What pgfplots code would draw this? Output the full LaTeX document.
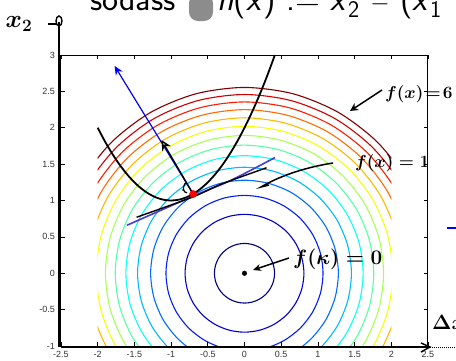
\documentclass[border=0pt]{standalone}
\usepackage{pgfplots}
\pgfplotsset{compat=1.18}
\usepackage{fontspec}
\newfontfamily\tickfont{Liberation Sans}
\usetikzlibrary{arrows.meta}
\definecolor{c0}{RGB}{0,0,128}
\definecolor{c1}{RGB}{0,0,206}
\definecolor{c2}{RGB}{0,29,255}
\definecolor{c3}{RGB}{0,108,255}
\definecolor{c4}{RGB}{0,186,255}
\definecolor{c5}{RGB}{10,255,245}
\definecolor{c6}{RGB}{88,255,167}
\definecolor{c7}{RGB}{167,255,88}
\definecolor{c8}{RGB}{245,255,10}
\definecolor{c9}{RGB}{255,186,0}
\definecolor{c10}{RGB}{255,108,0}
\definecolor{c11}{RGB}{255,29,0}
\definecolor{c12}{RGB}{206,0,0}
\definecolor{c13}{RGB}{128,0,0}
\definecolor{tanblue}{RGB}{70,60,210}
\begin{document}
\begin{tikzpicture}[x=1pt,y=1pt]
\useasboundingbox (-61,-14) rectangle (395,346);
% contour lines (grid x in [-2,2], y in [-1,3])
\begin{axis}[at={(36.7pt,0pt)}, anchor=south west, scale only axis,
  width=293.6pt, height=291pt, xmin=-2, xmax=2, ymin=-1, ymax=3,
  hide axis, clip=true]
\addplot[c0, line width=1.1pt, smooth cycle] coordinates {(0.41,0) (0.396,0.106) (0.355,0.205) (0.29,0.29) (0.205,0.355) (0.106,0.396) (0,0.41) (-0.106,0.396) (-0.205,0.355) (-0.29,0.29) (-0.355,0.205) (-0.396,0.106) (-0.41,0) (-0.396,-0.106) (-0.355,-0.205) (-0.29,-0.29) (-0.205,-0.355) (-0.106,-0.396) (0,-0.41) (0.106,-0.396) (0.205,-0.355) (0.29,-0.29) (0.355,-0.205) (0.396,-0.106)};
\addplot[c1, line width=1.1pt, smooth cycle] coordinates {(0.81,0) (0.782,0.21) (0.701,0.405) (0.573,0.573) (0.405,0.701) (0.21,0.782) (0,0.81) (-0.21,0.782) (-0.405,0.701) (-0.573,0.573) (-0.701,0.405) (-0.782,0.21) (-0.81,0) (-0.782,-0.21) (-0.701,-0.405) (-0.573,-0.573) (-0.405,-0.701) (-0.21,-0.782) (0,-0.81) (0.21,-0.782) (0.405,-0.701) (0.573,-0.573) (0.701,-0.405) (0.782,-0.21)};
\addplot[c2, line width=1.1pt, smooth cycle] coordinates {(1.07,0) (1.034,0.277) (0.927,0.535) (0.757,0.757) (0.535,0.927) (0.277,1.034) (0,1.07) (-0.277,1.034) (-0.535,0.927) (-0.757,0.757) (-0.927,0.535) (-1.034,0.277) (-1.07,0) (-1.034,-0.277) (-0.927,-0.535) (-0.757,-0.757) (-0.535,-0.927) (-0.277,-1.034) (0,-1.07) (0.277,-1.034) (0.535,-0.927) (0.757,-0.757) (0.927,-0.535) (1.034,-0.277)};
\addplot[c3, line width=1.1pt, smooth cycle] coordinates {(1.279,0) (1.235,0.331) (1.108,0.64) (0.904,0.904) (0.64,1.108) (0.331,1.235) (0,1.279) (-0.331,1.235) (-0.64,1.108) (-0.904,0.904) (-1.108,0.64) (-1.235,0.331) (-1.279,0) (-1.235,-0.331) (-1.108,-0.64) (-0.904,-0.904) (-0.64,-1.108) (-0.331,-1.235) (0,-1.279) (0.331,-1.235) (0.64,-1.108) (0.904,-0.904) (1.108,-0.64) (1.235,-0.331)};
\addplot[c4, line width=1.1pt, smooth cycle] coordinates {(1.457,0) (1.407,0.377) (1.262,0.729) (1.03,1.03) (0.729,1.262) (0.377,1.407) (0,1.457) (-0.377,1.407) (-0.729,1.262) (-1.03,1.03) (-1.262,0.729) (-1.407,0.377) (-1.457,0) (-1.407,-0.377) (-1.262,-0.729) (-1.03,-1.03) (-0.729,-1.262) (-0.377,-1.407) (0,-1.457) (0.377,-1.407) (0.729,-1.262) (1.03,-1.03) (1.262,-0.729) (1.407,-0.377)};
\addplot[c5, line width=1.1pt, smooth cycle] coordinates {(1.616,0) (1.561,0.418) (1.399,0.808) (1.143,1.143) (0.808,1.399) (0.418,1.561) (0,1.616) (-0.418,1.561) (-0.808,1.399) (-1.143,1.143) (-1.399,0.808) (-1.561,0.418) (-1.616,0) (-1.561,-0.418) (-1.399,-0.808) (-1.143,-1.143) (-0.808,-1.399) (-0.418,-1.561) (0,-1.616) (0.418,-1.561) (0.808,-1.399) (1.143,-1.143) (1.399,-0.808) (1.561,-0.418)};
\addplot[c6, line width=1.1pt, smooth cycle] coordinates {(1.761,0) (1.701,0.456) (1.525,0.881) (1.245,1.245) (0.881,1.525) (0.456,1.701) (0,1.761) (-0.456,1.701) (-0.881,1.525) (-1.245,1.245) (-1.525,0.881) (-1.701,0.456) (-1.761,0) (-1.701,-0.456) (-1.525,-0.881) (-1.245,-1.245) (-0.881,-1.525) (-0.456,-1.701) (0,-1.761) (0.456,-1.701) (0.881,-1.525) (1.245,-1.245) (1.525,-0.881) (1.701,-0.456)};
\addplot[c7, line width=1.1pt, smooth cycle] coordinates {(1.895,0) (1.83,0.49) (1.641,0.948) (1.34,1.34) (0.948,1.641) (0.49,1.83) (0,1.895) (-0.49,1.83) (-0.948,1.641) (-1.34,1.34) (-1.641,0.948) (-1.83,0.49) (-1.895,0) (-1.83,-0.49) (-1.641,-0.948) (-1.34,-1.34) (-0.948,-1.641) (-0.49,-1.83) (0,-1.895) (0.49,-1.83) (0.948,-1.641) (1.34,-1.34) (1.641,-0.948) (1.83,-0.49)};
\addplot[c8, line width=1.1pt, smooth cycle] coordinates {(2.02,0) (1.951,0.523) (1.749,1.01) (1.428,1.428) (1.01,1.749) (0.523,1.951) (0,2.02) (-0.523,1.951) (-1.01,1.749) (-1.428,1.428) (-1.749,1.01) (-1.951,0.523) (-2.02,0) (-1.951,-0.523) (-1.749,-1.01) (-1.428,-1.428) (-1.01,-1.749) (-0.523,-1.951) (0,-2.02) (0.523,-1.951) (1.01,-1.749) (1.428,-1.428) (1.749,-1.01) (1.951,-0.523)};
\addplot[c9, line width=1.1pt, smooth cycle] coordinates {(2.137,0) (2.064,0.553) (1.851,1.069) (1.511,1.511) (1.069,1.851) (0.553,2.064) (0,2.137) (-0.553,2.064) (-1.069,1.851) (-1.511,1.511) (-1.851,1.069) (-2.064,0.553) (-2.137,0) (-2.064,-0.553) (-1.851,-1.069) (-1.511,-1.511) (-1.069,-1.851) (-0.553,-2.064) (0,-2.137) (0.553,-2.064) (1.069,-1.851) (1.511,-1.511) (1.851,-1.069) (2.064,-0.553)};
\addplot[c10, line width=1.1pt, smooth cycle] coordinates {(2.249,0) (2.172,0.582) (1.948,1.125) (1.59,1.59) (1.125,1.948) (0.582,2.172) (0,2.249) (-0.582,2.172) (-1.125,1.948) (-1.59,1.59) (-1.948,1.125) (-2.172,0.582) (-2.249,0) (-2.172,-0.582) (-1.948,-1.125) (-1.59,-1.59) (-1.125,-1.948) (-0.582,-2.172) (0,-2.249) (0.582,-2.172) (1.125,-1.948) (1.59,-1.59) (1.948,-1.125) (2.172,-0.582)};
\addplot[c11, line width=1.1pt, smooth cycle] coordinates {(2.355,0) (2.275,0.609) (2.039,1.178) (1.665,1.665) (1.178,2.039) (0.609,2.275) (0,2.355) (-0.609,2.275) (-1.178,2.039) (-1.665,1.665) (-2.039,1.178) (-2.275,0.609) (-2.355,0) (-2.275,-0.609) (-2.039,-1.178) (-1.665,-1.665) (-1.178,-2.039) (-0.609,-2.275) (0,-2.355) (0.609,-2.275) (1.178,-2.039) (1.665,-1.665) (2.039,-1.178) (2.275,-0.609)};
\addplot[c12, line width=1.1pt, smooth cycle] coordinates {(2.457,0) (2.373,0.636) (2.128,1.229) (1.737,1.737) (1.229,2.128) (0.636,2.373) (0,2.457) (-0.636,2.373) (-1.229,2.128) (-1.737,1.737) (-2.128,1.229) (-2.373,0.636) (-2.457,0) (-2.373,-0.636) (-2.128,-1.229) (-1.737,-1.737) (-1.229,-2.128) (-0.636,-2.373) (0,-2.457) (0.636,-2.373) (1.229,-2.128) (1.737,-1.737) (2.128,-1.229) (2.373,-0.636)};
\addplot[c13, line width=1.1pt, smooth cycle] coordinates {(2.554,0) (2.467,0.661) (2.212,1.277) (1.806,1.806) (1.277,2.212) (0.661,2.467) (0,2.554) (-0.661,2.467) (-1.277,2.212) (-1.806,1.806) (-2.212,1.277) (-2.467,0.661) (-2.554,0) (-2.467,-0.661) (-2.212,-1.277) (-1.806,-1.806) (-1.277,-2.212) (-0.661,-2.467) (0,-2.554) (0.661,-2.467) (1.277,-2.212) (1.806,-1.806) (2.212,-1.277) (2.467,-0.661)};
\end{axis}
% main axis
\begin{axis}[at={(0pt,0pt)}, anchor=south west, scale only axis,
  width=367pt, height=291pt, xmin=-2.5, xmax=2.5, ymin=-1, ymax=3,
  xtick={-2.5,-2,-1.5,-1,-0.5,0,0.5,1,1.5,2,2.5},
  ytick={-1,-0.5,0,0.5,1,1.5,2,2.5,3},
  xticklabels={-2.5,-2,-1.5,-1,-0.5,0,0.5,1,1.5,2,2.5},
  yticklabels={-1,-0.5,0,0.5,1,1.5,2,2.5,3},
  tick align=inside, major tick length=4pt,
  tick style={black, line width=0.6pt},
  ticklabel style={font=\tickfont\fontsize{9}{10}\selectfont, text=black!80},
  xticklabel style={yshift=-1.5pt}, yticklabel style={xshift=-2.5pt},
  /pgf/number format/assume math mode=true,
  axis line style={line width=1pt}, clip=false]
% parabola h(x)=0
\addplot[black, line width=1.8pt, smooth] coordinates {(-2,2) (-1.9,1.81) (-1.8,1.64) (-1.7,1.49) (-1.6,1.36) (-1.5,1.25) (-1.4,1.16) (-1.3,1.09) (-1.2,1.04) (-1.1,1.01) (-1,1) (-0.9,1.01) (-0.8,1.04) (-0.7,1.09) (-0.6,1.16) (-0.5,1.25) (-0.4,1.36) (-0.3,1.49) (-0.2,1.64) (-0.1,1.81) (0,2) (0.1,2.21) (0.2,2.44) (0.3,2.69) (0.414,3)};
% blue tangent line
\addplot[tanblue, line width=1.6pt, smooth] coordinates {(-1.6,0.66) (-0.7,1.06) (-0.2,1.27) (0.415,1.59)};
% hand-drawn black tangent
\addplot[black, line width=1.4pt, smooth] coordinates {(-1.47,0.77) (-0.7,1.05) (-0.33,1.22) (0.3,1.45)};
% blue gradient arrow
\addplot[blue, line width=1.2pt, -{Stealth[length=9pt,width=8pt]}] coordinates {(-0.7,1.09) (-1.77,2.85)};
% black hand arrow
\addplot[black, line width=1.4pt, -{Stealth[length=10pt,width=10pt,open,line width=1.4pt]}] coordinates {(-0.7,1.09) (-1.13,1.83)};
% red point
\addplot[only marks, mark=*, mark size=3.6pt, red, mark options={fill=red, draw=red}] coordinates {(-0.7,1.09)};
% minimum
\addplot[only marks, mark=*, mark size=2.3pt, black] coordinates {(0,0)};
\end{axis}
% hand-drawn axes
\draw[line width=2pt] (-2,-1) -- (-2,324);
\draw[line width=1.4pt] (-2,325) ellipse (3pt and 5pt);
\draw[line width=1.4pt] (-13,322) -- (-5,322);
\draw[line width=2pt] (0,-1) -- (368,-1);
\draw[line width=1.4pt] (360,-6) -- (369,-1) -- (360,3);
\draw[line width=1pt, densely dotted] (369,-1) -- (395,-1);
% title fragment
\node[anchor=base west, inner sep=0pt, font=\sffamily\fontsize{34}{40}\selectfont] at (29,336) {sodass};
\fill[black!45, rounded corners=9pt] (128,325) rectangle (152,352);
\node[anchor=base west, inner sep=0pt, font=\sffamily\fontsize{34}{40}\selectfont] at (156,336) {\textsl{h}(\textsl{x}) := \textsl{x}\textsubscript{2} \(-\) (\textsl{x}\textsubscript{1}};
% handwritten notes
\node[font=\fontsize{24}{26}\selectfont\boldmath] at (-42,322) {$x_2$};
\node[anchor=west, inner sep=0pt, font=\fontsize{17}{20}\selectfont\boldmath] at (324,252) {$f(x)\!=\!6$};
\draw[line width=1.5pt, -{Stealth[length=8pt,width=8pt,open]}] (321,256) -- (289,235);
\node[anchor=west, inner sep=0pt, font=\fontsize{17}{20}\selectfont\boldmath] at (294,183) {$f(x) = 1$};
\draw[line width=1.5pt] (272,183) .. controls (240,178) and (215,168) .. (200,159) -- (208,161);
\node[anchor=west, inner sep=0pt, font=\fontsize{21}{24}\selectfont\boldmath] at (232,87) {$f(\kappa)=0$};
\draw[line width=1.5pt, -{Stealth[length=8pt,width=7pt]}] (228,88) -- (192,76);
\draw[line width=1.2pt] (126,163) arc (80:280:3pt and 5pt);
\fill (122,156) circle (0.9pt);
\node[anchor=west, inner sep=0pt, font=\fontsize{20}{24}\selectfont\boldmath] at (371,24) {$\Delta x$};
\draw[blue, line width=1.5pt] (386,118) -- (395,118);
\end{tikzpicture}
\end{document}
